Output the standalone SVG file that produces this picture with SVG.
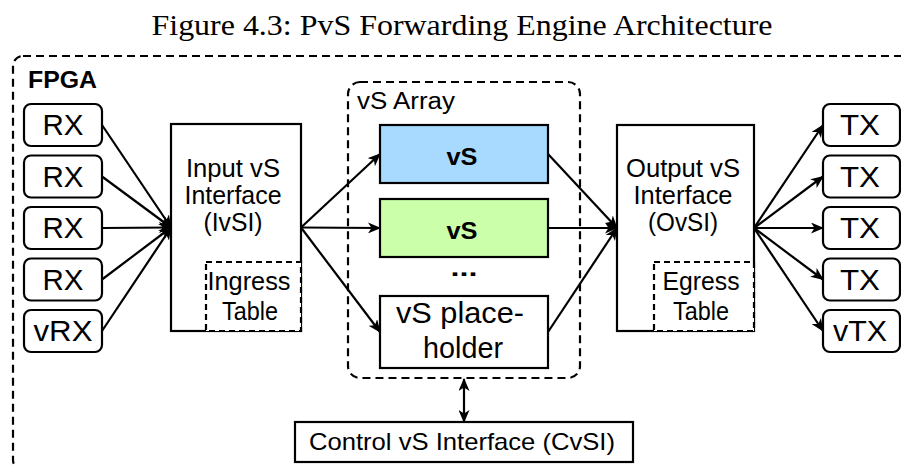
<svg xmlns="http://www.w3.org/2000/svg" width="901" height="466" viewBox="0 0 901 466">
<style>
.t{font-family:"Liberation Sans",Arial,Helvetica,sans-serif;fill:#000;text-anchor:middle}
.b{font-weight:bold}
.box{fill:#fff;stroke:#000;stroke-width:2.2}
.dash{fill:none;stroke:#000;stroke-width:2.2;stroke-dasharray:8 5}
.dashw{fill:#fff;stroke:#000;stroke-width:2.2;stroke-dasharray:6 4}
.ln{fill:none;stroke:#000;stroke-width:2.2}
</style>
<defs>
<marker id="ah" viewBox="0 0 13 11" refX="12" refY="5.5" markerWidth="13" markerHeight="11" markerUnits="userSpaceOnUse" orient="auto">
<path d="M0,0 L13,5.5 L0,11 L3.5,5.5 Z" fill="#000"/>
</marker>
<marker id="as" viewBox="0 0 13 11" refX="12" refY="5.5" markerWidth="13" markerHeight="11" markerUnits="userSpaceOnUse" orient="auto-start-reverse">
<path d="M0,0 L13,5.5 L0,11 L3.5,5.5 Z" fill="#000"/>
</marker>
</defs>
<rect width="901" height="466" fill="#fff"/>
<text x="462" y="35" font-family="Liberation Serif,Times New Roman,serif" font-size="30" text-anchor="middle" textLength="621" lengthAdjust="spacingAndGlyphs">Figure 4.3: PvS Forwarding Engine Architecture</text>

<g id="fpga">
<rect x="13" y="56" width="900" height="414" rx="10" class="dash"/>
<text x="28" y="88" class="t b" font-size="23" style="text-anchor:start" textLength="69" lengthAdjust="spacingAndGlyphs">FPGA</text>
</g>

<g id="vsarray">
<rect x="348" y="82" width="232" height="296" rx="12" class="dash"/>
<text x="357" y="109" class="t" font-size="23" style="text-anchor:start" textLength="98" lengthAdjust="spacingAndGlyphs">vS Array</text>
</g>

<g id="rx1"><rect x="24" y="104" width="78" height="42" rx="7" class="box"/><text x="63" y="135" class="t" font-size="30" textLength="41" lengthAdjust="spacingAndGlyphs">RX</text></g>
<g id="rx2"><rect x="24" y="155.5" width="78" height="42" rx="7" class="box"/><text x="63" y="186.5" class="t" font-size="30" textLength="41" lengthAdjust="spacingAndGlyphs">RX</text></g>
<g id="rx3"><rect x="24" y="207" width="78" height="42" rx="7" class="box"/><text x="63" y="238" class="t" font-size="30" textLength="41" lengthAdjust="spacingAndGlyphs">RX</text></g>
<g id="rx4"><rect x="24" y="258.5" width="78" height="42" rx="7" class="box"/><text x="63" y="289.5" class="t" font-size="30" textLength="41" lengthAdjust="spacingAndGlyphs">RX</text></g>
<g id="vrx"><rect x="24" y="310" width="78" height="42" rx="7" class="box"/><text x="63" y="341" class="t" font-size="30" textLength="59" lengthAdjust="spacingAndGlyphs">vRX</text></g>

<g id="ivsi">
<rect x="171" y="124" width="130" height="207" class="box"/>
<text class="t" font-size="25"><tspan x="233" y="177" textLength="94" lengthAdjust="spacingAndGlyphs">Input vS</tspan><tspan x="233" y="204" textLength="97" lengthAdjust="spacingAndGlyphs">Interface</tspan><tspan x="233" y="231" textLength="59" lengthAdjust="spacingAndGlyphs">(IvSI)</tspan></text>
</g>
<g id="ingress">
<rect x="206" y="262" width="95" height="69" class="dashw"/>
<text class="t" font-size="25"><tspan x="249" y="290" textLength="83" lengthAdjust="spacingAndGlyphs">Ingress</tspan><tspan x="250" y="320" textLength="56" lengthAdjust="spacingAndGlyphs">Table</tspan></text>
</g>

<g id="vs1"><rect x="380" y="125" width="168" height="58" fill="#A8DAFF" stroke="#000" stroke-width="2.2"/><text x="462" y="165" class="t b" font-size="24" textLength="31" lengthAdjust="spacingAndGlyphs">vS</text></g>
<g id="vs2"><rect x="380" y="199" width="168" height="58" fill="#CCFFAA" stroke="#000" stroke-width="2.2"/><text x="462" y="239" class="t b" font-size="24" textLength="31" lengthAdjust="spacingAndGlyphs">vS</text></g>
<g id="dots"><text x="464" y="276" class="t b" font-size="24" textLength="27" lengthAdjust="spacingAndGlyphs">...</text></g>
<g id="vsph">
<rect x="380" y="296" width="168" height="72" class="box"/>
<text class="t" font-size="30"><tspan x="460" y="323" textLength="128" lengthAdjust="spacingAndGlyphs">vS place-</tspan><tspan x="463" y="358" textLength="80" lengthAdjust="spacingAndGlyphs">holder</tspan></text>
</g>

<g id="ovsi">
<rect x="617" y="125" width="137" height="206" class="box"/>
<text class="t" font-size="25"><tspan x="683" y="177" textLength="114" lengthAdjust="spacingAndGlyphs">Output vS</tspan><tspan x="683" y="204" textLength="99" lengthAdjust="spacingAndGlyphs">Interface</tspan><tspan x="683" y="231" textLength="70" lengthAdjust="spacingAndGlyphs">(OvSI)</tspan></text>
</g>
<g id="egress">
<rect x="654" y="262" width="100" height="69" class="dashw"/>
<text class="t" font-size="25"><tspan x="701" y="290" textLength="77" lengthAdjust="spacingAndGlyphs">Egress</tspan><tspan x="701" y="320" textLength="56" lengthAdjust="spacingAndGlyphs">Table</tspan></text>
</g>

<g id="tx1"><rect x="823" y="104" width="77" height="42" rx="7" class="box"/><text x="860" y="135" class="t" font-size="30" textLength="40" lengthAdjust="spacingAndGlyphs">TX</text></g>
<g id="tx2"><rect x="823" y="155.5" width="77" height="42" rx="7" class="box"/><text x="860" y="186.5" class="t" font-size="30" textLength="40" lengthAdjust="spacingAndGlyphs">TX</text></g>
<g id="tx3"><rect x="823" y="207" width="77" height="42" rx="7" class="box"/><text x="860" y="238" class="t" font-size="30" textLength="40" lengthAdjust="spacingAndGlyphs">TX</text></g>
<g id="tx4"><rect x="823" y="258.5" width="77" height="42" rx="7" class="box"/><text x="860" y="289.5" class="t" font-size="30" textLength="40" lengthAdjust="spacingAndGlyphs">TX</text></g>
<g id="vtx"><rect x="823" y="310" width="77" height="42" rx="7" class="box"/><text x="860" y="341" class="t" font-size="30" textLength="54" lengthAdjust="spacingAndGlyphs">vTX</text></g>

<g id="cvsi">
<rect x="295" y="422" width="338" height="40" class="box"/>
<text x="462" y="450" class="t" font-size="24" textLength="306" lengthAdjust="spacingAndGlyphs">Control vS Interface (CvSI)</text>
</g>

<g id="connectors">
<line x1="102" y1="125" x2="171" y2="227.5" class="ln" marker-end="url(#ah)"/>
<line x1="102" y1="176.5" x2="171" y2="227.5" class="ln" marker-end="url(#ah)"/>
<line x1="102" y1="228" x2="171" y2="227.5" class="ln" marker-end="url(#ah)"/>
<line x1="102" y1="279.5" x2="171" y2="227.5" class="ln" marker-end="url(#ah)"/>
<line x1="102" y1="331" x2="171" y2="227.5" class="ln" marker-end="url(#ah)"/>
<line x1="301" y1="227.5" x2="380" y2="154" class="ln" marker-end="url(#ah)"/>
<line x1="301" y1="227.5" x2="380" y2="228" class="ln" marker-end="url(#ah)"/>
<line x1="301" y1="227.5" x2="380" y2="332" class="ln" marker-end="url(#ah)"/>
<line x1="548" y1="154" x2="617" y2="228" class="ln" marker-end="url(#ah)"/>
<line x1="548" y1="228" x2="617" y2="228" class="ln" marker-end="url(#ah)"/>
<line x1="548" y1="332" x2="617" y2="228" class="ln" marker-end="url(#ah)"/>
<line x1="754" y1="228" x2="823" y2="125" class="ln" marker-end="url(#ah)"/>
<line x1="754" y1="228" x2="823" y2="176.5" class="ln" marker-end="url(#ah)"/>
<line x1="754" y1="228" x2="823" y2="228" class="ln" marker-end="url(#ah)"/>
<line x1="754" y1="228" x2="823" y2="279.5" class="ln" marker-end="url(#ah)"/>
<line x1="754" y1="228" x2="823" y2="331" class="ln" marker-end="url(#ah)"/>
<line x1="464" y1="379" x2="464" y2="422" class="ln" marker-start="url(#as)" marker-end="url(#as)"/>
</g>
</svg>
